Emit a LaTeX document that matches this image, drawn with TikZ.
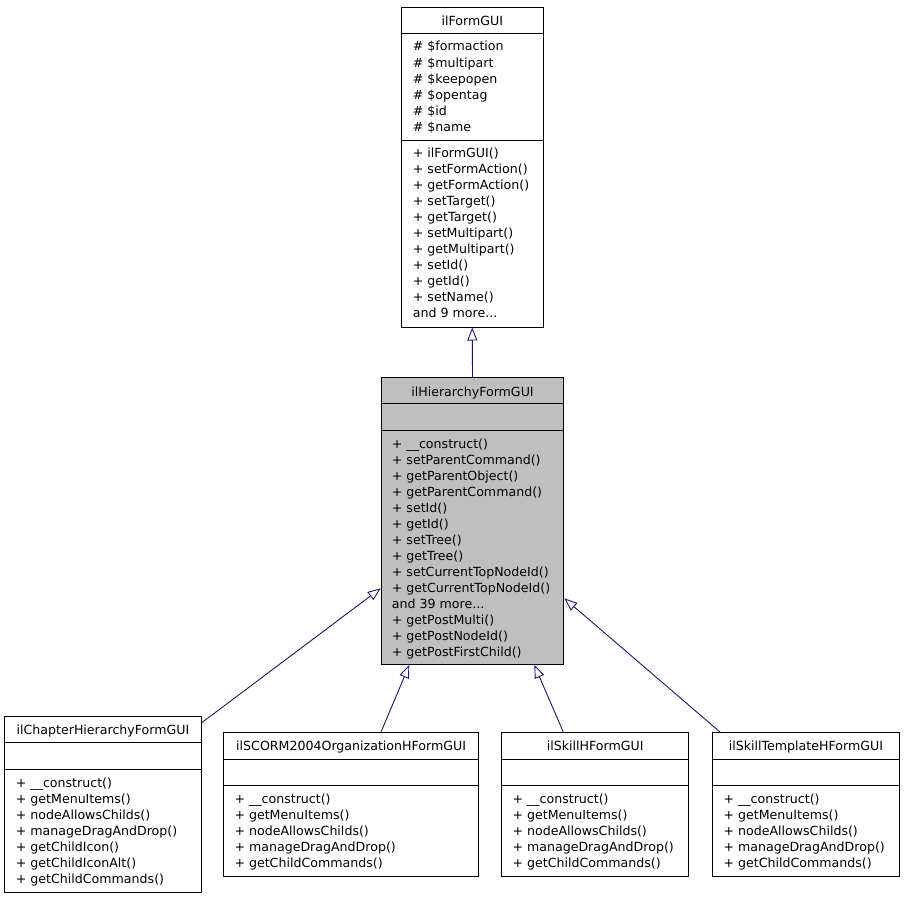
\documentclass[tikz,border=0pt]{standalone}
\usepackage{fontspec}
\setmainfont{DejaVu Sans}
\usetikzlibrary{arrows.meta, calc, positioning}
\definecolor{edgeblue}{RGB}{25,25,112}
\definecolor{hiliteg}{RGB}{191,191,191}
\newcommand\moredots{...}

\tikzset{
  classbox/.style={draw=black, line width=1pt, anchor=north west, inner sep=0pt},
  member/.style={anchor=west, inner sep=0pt, text height=10pt, text depth=0pt, font=\fontsize{12.6}{14}\selectfont},
  classname/.style={inner sep=0pt, text height=10pt, text depth=0pt, font=\fontsize{12.6}{14}\selectfont},
  inherit/.style={draw=edgeblue, line width=0.9pt, -{Triangle[open, length=13pt, width=10pt]}}
}

\begin{document}
\begin{tikzpicture}[x=1pt, y=-1pt]
  \useasboundingbox (0,0) rectangle (904,899);

  % base class
  \node[classbox, minimum width=141.5pt, minimum height=319.5pt] (form) at (401,7) {};
  \draw[line width=1pt] ($(form.north west)+(0,26.5)$) -- ($(form.north east)+(0,26.5)$);
  \draw[line width=1pt] ($(form.north west)+(0,133)$) -- ($(form.north east)+(0,133)$);
  \node[classname] (form-t) at ($(form.north)+(0,13.5)$) {ilFormGUI};
  \foreach \t [count=\i] in {\# \$formaction, \# \$multipart, \# \$keepopen, \# \$opentag, \# \$id, \# \$name}
    \node[member] (form-a\i) at (412.7, 30+16*\i) {\t};
  \foreach \t [count=\i] in {+ ilFormGUI(), + setFormAction(), + getFormAction(), + setTarget(), + getTarget(),
      + setMultipart(), + getMultipart(), + setId(), + getId(), + setName(), and 9 more\moredots}
    \node[member] (form-m\i) at (412.7, 136+16*\i) {\t};

  % this class
  \node[classbox, fill=hiliteg, minimum width=182.6pt, minimum height=286.7pt] (hier) at (380.7,377.3) {};
  \draw[line width=1pt] ($(hier.north west)+(0,26.5)$) -- ($(hier.north east)+(0,26.5)$);
  \draw[line width=1pt] ($(hier.north west)+(0,53.4)$) -- ($(hier.north east)+(0,53.4)$);
  \node[classname] (hier-t) at ($(hier.north)+(0,13.7)$) {ilHierarchyFormGUI};
  \foreach \t [count=\i] in {+ \_\_construct(), + setParentCommand(), + getParentObject(), + getParentCommand(),
      + setId(), + getId(), + setTree(), + getTree(), + setCurrentTopNodeId(), + getCurrentTopNodeId(),
      and 39 more\moredots, + getPostMulti(), + getPostNodeId(), + getPostFirstChild()}
    \node[member] (hier-m\i) at (391.7, 427.3+16*\i) {\t};

  % derived classes
  \node[classbox, minimum width=196.4pt, minimum height=176pt] (chap) at (4.3,715.7) {};
  \draw[line width=1pt] ($(chap.north west)+(0,26.6)$) -- ($(chap.north east)+(0,26.6)$);
  \draw[line width=1pt] ($(chap.north west)+(0,53.6)$) -- ($(chap.north east)+(0,53.6)$);
  \node[classname] (chap-t) at ($(chap.north)+(0,13.6)$) {ilChapterHierarchyFormGUI};
  \foreach \t [count=\i] in {+ \_\_construct(), + getMenuItems(), + nodeAllowsChilds(), + manageDragAndDrop(),
      + getChildIcon(), + getChildIconAlt(), + getChildCommands()}
    \node[member] (chap-m\i) at (15.7, 766+16*\i) {\t};

  \node[classbox, minimum width=255.3pt, minimum height=143.7pt] (scorm) at (223,732) {};
  \draw[line width=1pt] ($(scorm.north west)+(0,27)$) -- ($(scorm.north east)+(0,27)$);
  \draw[line width=1pt] ($(scorm.north west)+(0,53.7)$) -- ($(scorm.north east)+(0,53.7)$);
  \node[classname] (scorm-t) at ($(scorm.north)+(0,13.3)$) {ilSCORM2004OrganizationHFormGUI};
  \foreach \t [count=\i] in {+ \_\_construct(), + getMenuItems(), + nodeAllowsChilds(), + manageDragAndDrop(),
      + getChildCommands()}
    \node[member] (scorm-m\i) at (234.3, 782.3+16*\i) {\t};

  \node[classbox, minimum width=187.3pt, minimum height=143.7pt] (skill) at (501,732) {};
  \draw[line width=1pt] ($(skill.north west)+(0,27)$) -- ($(skill.north east)+(0,27)$);
  \draw[line width=1pt] ($(skill.north west)+(0,53.7)$) -- ($(skill.north east)+(0,53.7)$);
  \node[classname] (skill-t) at ($(skill.north)+(0,13.3)$) {ilSkillHFormGUI};
  \foreach \t [count=\i] in {+ \_\_construct(), + getMenuItems(), + nodeAllowsChilds(), + manageDragAndDrop(),
      + getChildCommands()}
    \node[member] (skill-m\i) at (512.3, 782.3+16*\i) {\t};

  \node[classbox, minimum width=187.3pt, minimum height=143.7pt] (tmpl) at (711.7,732) {};
  \draw[line width=1pt] ($(tmpl.north west)+(0,27)$) -- ($(tmpl.north east)+(0,27)$);
  \draw[line width=1pt] ($(tmpl.north west)+(0,53.7)$) -- ($(tmpl.north east)+(0,53.7)$);
  \node[classname] (tmpl-t) at ($(tmpl.north)+(0,13.3)$) {ilSkillTemplateHFormGUI};
  \foreach \t [count=\i] in {+ \_\_construct(), + getMenuItems(), + nodeAllowsChilds(), + manageDragAndDrop(),
      + getChildCommands()}
    \node[member] (tmpl-m\i) at (723.3, 782.3+16*\i) {\t};

  % inheritance
  \draw[inherit] (hier.north) -- (form.south);
  \draw[inherit] ($(chap.north east)+(0,7)$) -- ($(hier.north west)+(0,211)$);
  \draw[inherit] ($(scorm.north west)+(158,0)$) -- ($(hier.south west)+(28.6,0)$);
  \draw[inherit] ($(skill.north west)+(62.3,0)$) -- ($(hier.south west)+(153.6,0)$);
  \draw[inherit] ($(tmpl.north west)+(8.3,0)$) -- ($(hier.north east)+(0,221)$);
\end{tikzpicture}
\end{document}
